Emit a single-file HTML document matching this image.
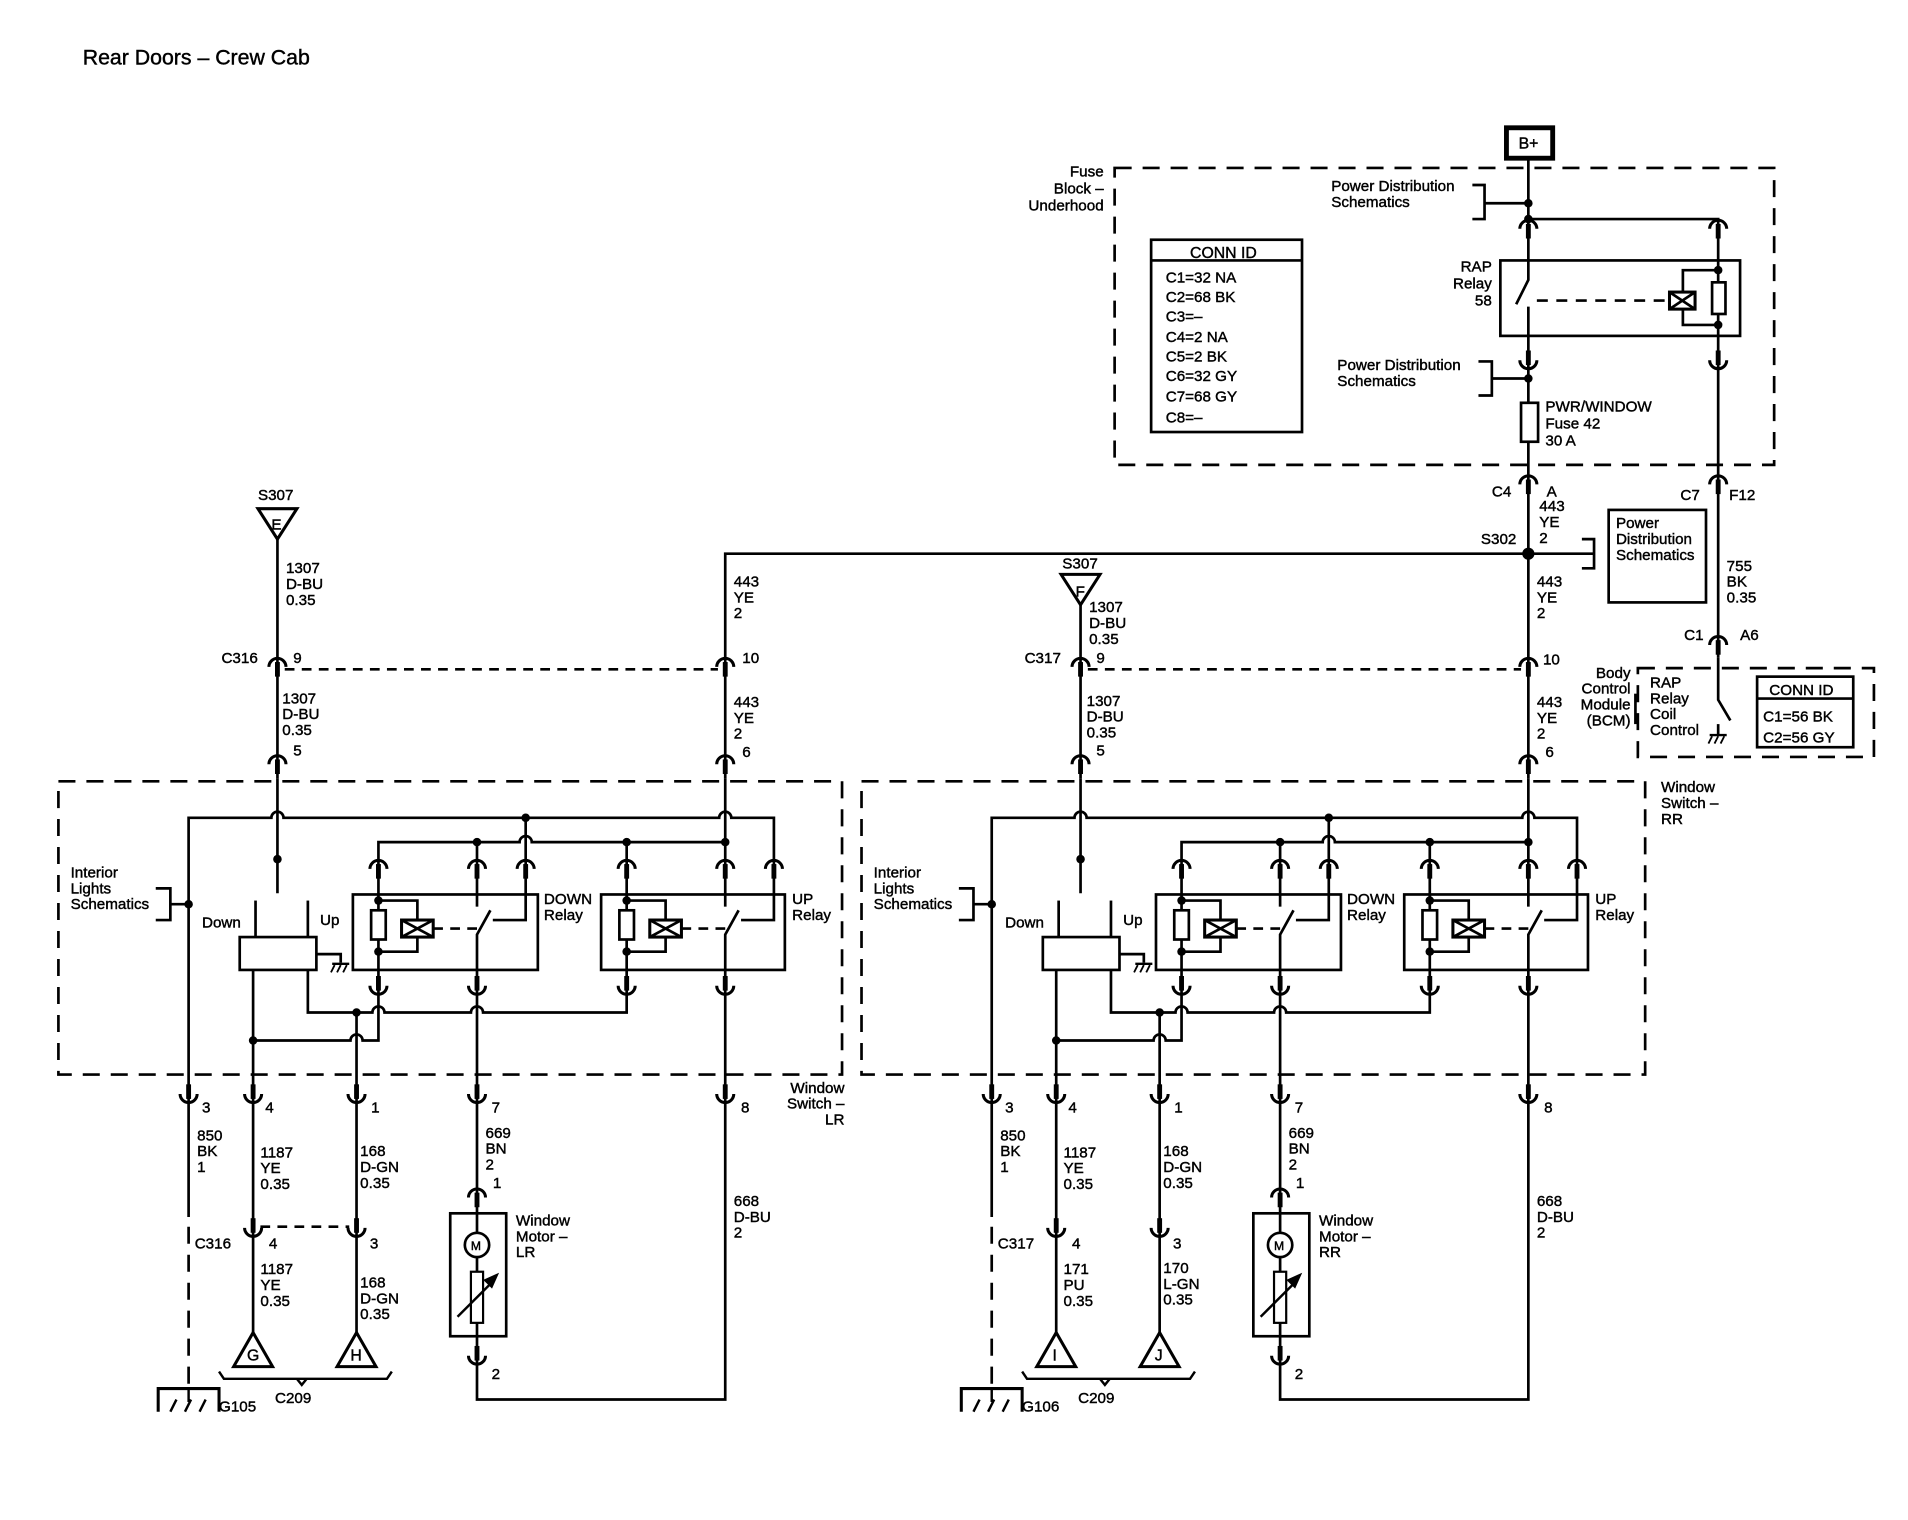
<!DOCTYPE html>
<html><head><meta charset="utf-8"><style>
html,body{margin:0;padding:0;background:#fff}
svg{display:block}
text{font-family:"Liberation Sans",Arial,sans-serif;font-size:12.5px;fill:#000;stroke:#000;stroke-width:0.35}
</style></head><body>
<svg width="1908" height="1520" viewBox="0 0 1568 1249" preserveAspectRatio="none" xmlns="http://www.w3.org/2000/svg">
<defs>
<g id="ct"><line x1="0" y1="2" x2="0" y2="14" stroke="#000" stroke-width="4"/><path d="M-7,6 A7,7 0 0 1 7,6" fill="none" stroke="#000" stroke-width="2.5"/></g>
<g id="cb"><line x1="0" y1="-14" x2="0" y2="-2" stroke="#000" stroke-width="4"/><path d="M-7,-6 A7,7 0 0 0 7,-6" fill="none" stroke="#000" stroke-width="2.5"/></g>
<g id="gnd"><line x1="-7" y1="0" x2="7" y2="0" stroke="#000" stroke-width="2"/><line x1="-5" y1="1" x2="-8" y2="7" stroke="#000" stroke-width="1.5"/><line x1="0" y1="1" x2="-3" y2="7" stroke="#000" stroke-width="1.5"/><line x1="5" y1="1" x2="2" y2="7" stroke="#000" stroke-width="1.5"/></g>
<g id="asm" fill="none" stroke="#000" stroke-width="2.2">
 <path d="M155,900 V672 H223 A5,5 0 0 1 233,672 H591 A5,5 0 0 1 601,672 H636 V714"/>
 <path d="M311,714 V692 H427 A5,5 0 0 1 437,692 H596"/>
 <line x1="432" y1="672" x2="432" y2="714"/>
 <line x1="392" y1="692" x2="392" y2="714"/>
 <line x1="515" y1="692" x2="515" y2="714"/>
 <line x1="596" y1="640" x2="596" y2="714"/>
 <line x1="228" y1="640" x2="228" y2="734"/>
 <rect x="197" y="770" width="63" height="27" fill="#fff"/>
 <line x1="210" y1="740" x2="210" y2="770"/>
 <line x1="253" y1="740" x2="253" y2="770"/>
 <path d="M260,784 H280 V791"/>
 <rect x="290" y="735" width="152" height="62"/>
 <line x1="311" y1="714" x2="311" y2="809"/>
 <rect x="305" y="748" width="12" height="24" fill="#fff"/>
 <path d="M311,740 H343 V756 M311,782 H343 V770"/>
 <rect x="330" y="756" width="26" height="14" stroke-width="2.5" fill="#fff"/>
 <path d="M330,756 L356,770 M356,756 L330,770"/>
 <line x1="356" y1="763" x2="392" y2="763" stroke-dasharray="8,6"/>
 <line x1="392" y1="714" x2="392" y2="745"/>
 <path d="M392,809 V768 L403,748"/>
 <path d="M432,714 V756 H405"/>
 <rect x="494" y="735" width="151" height="62"/>
 <line x1="515" y1="714" x2="515" y2="809"/>
 <rect x="509" y="748" width="12" height="24" fill="#fff"/>
 <path d="M515,740 H547 V756 M515,782 H547 V770"/>
 <rect x="534" y="756" width="26" height="14" stroke-width="2.5" fill="#fff"/>
 <path d="M534,756 L560,770 M560,756 L534,770"/>
 <line x1="560" y1="763" x2="596" y2="763" stroke-dasharray="8,6"/>
 <line x1="596" y1="714" x2="596" y2="745"/>
 <path d="M596,898 V768 L607,748"/>
 <path d="M636,714 V756 H609"/>
 <path d="M311,809 V855 H298 A5,5 0 0 0 288,855 H208"/>
 <line x1="208" y1="797" x2="208" y2="898"/>
 <path d="M253,797 V832 H306 A5,5 0 0 1 316,832 H387 A5,5 0 0 1 397,832 H515 V809"/>
 <line x1="293" y1="832" x2="293" y2="898"/>
 <line x1="392" y1="809" x2="392" y2="898"/>
 <g fill="#000" stroke="none">
  <circle cx="432" cy="672" r="3.5"/><circle cx="392" cy="692" r="3.5"/><circle cx="515" cy="692" r="3.5"/><circle cx="596" cy="692" r="3.5"/>
  <circle cx="228" cy="706" r="3.5"/><circle cx="311" cy="740" r="3.5"/><circle cx="311" cy="782" r="3.5"/><circle cx="515" cy="740" r="3.5"/><circle cx="515" cy="782" r="3.5"/>
  <circle cx="208" cy="855" r="3.5"/><circle cx="293" cy="832" r="3.5"/><circle cx="155" cy="743" r="3.5"/>
 </g>
 <path d="M128,730 H140 V756 H128 M140,743 H155"/>
 <rect x="48" y="642" width="644" height="241" stroke-dasharray="14,9"/>
 <use href="#ct" x="228" y="622"/><use href="#ct" x="596" y="622"/>
 <use href="#ct" x="311" y="708"/><use href="#ct" x="392" y="708"/><use href="#ct" x="432" y="708"/><use href="#ct" x="515" y="708"/><use href="#ct" x="596" y="708"/><use href="#ct" x="636" y="708"/>
 <use href="#cb" x="311" y="816"/><use href="#cb" x="392" y="816"/><use href="#cb" x="515" y="816"/><use href="#cb" x="596" y="816"/>
 <use href="#cb" x="155" y="905"/><use href="#cb" x="208" y="905"/><use href="#cb" x="293" y="905"/><use href="#cb" x="392" y="905"/><use href="#cb" x="596" y="905"/>
 <use href="#gnd" x="280" y="792"/>
 <line x1="155" y1="900" x2="155" y2="1000"/>
 <line x1="155" y1="1008" x2="155" y2="1140" stroke-dasharray="14,9"/>
 <line x1="208" y1="898" x2="208" y2="1095"/>
 <line x1="293" y1="898" x2="293" y2="1095"/>
 <use href="#cb" x="208" y="1015"/><use href="#cb" x="293" y="1015"/>
 <path d="M192,1123 L208,1095 L224,1123 Z" stroke-width="2.5"/>
 <path d="M277,1123 L293,1095 L309,1123 Z" stroke-width="2.5"/>
 <path d="M180,1127 L184,1133 H318 L322,1127 M244,1133 L248,1138 L252,1133" stroke-width="2"/>
 <path d="M130,1160 V1141 H180 V1160" stroke-width="2.5"/>
 <path d="M155,1141 V1152 M140,1160 L145,1150 M152,1160 L157,1150 M164,1160 L169,1150" stroke-width="2"/>
 <line x1="392" y1="898" x2="392" y2="997"/>
 <use href="#ct" x="392" y="978"/>
 <rect x="370" y="997" width="46" height="101" stroke-width="2.2"/>
 <circle cx="392" cy="1023" r="10" fill="#fff" stroke-width="2.2"/>
 <line x1="392" y1="997" x2="392" y2="1013"/>
 <line x1="392" y1="1033" x2="392" y2="1045"/>
 <rect x="387" y="1045" width="10" height="42" fill="#fff" stroke-width="1.8"/>
 <line x1="392" y1="1087" x2="392" y2="1098"/>
 <path d="M376,1082 L406,1052" stroke-width="2"/><path d="M408,1048 L399,1052 L404,1057 Z" fill="#000"/>
 <use href="#cb" x="392" y="1120"/>
 <path d="M392,1098 V1150 H596 V898"/>
</g>
</defs>
<text x="68" y="53" style="font-size:17.5px">Rear Doors – Crew Cab</text>

<g fill="none" stroke="#000" stroke-width="2.2">
 <rect x="916" y="138" width="542" height="244" stroke-dasharray="14,9"/>
 <rect x="946" y="197" width="124" height="158"/>
 <line x1="946" y1="214" x2="1070" y2="214"/>
 <rect x="1238" y="105" width="38" height="25" stroke-width="4"/>
 <path d="M1256,130 V230 L1246,250"/>
 <path d="M1256,180 H1412 V258"/>
 <path d="M1210,152 H1220 V180 H1210 M1220,167 H1256"/>
 <rect x="1233" y="214" width="197" height="62"/>
 <line x1="1263" y1="247" x2="1372" y2="247" stroke-dasharray="9,7"/>
 <rect x="1372" y="240" width="21" height="14" stroke-width="2.5" fill="#fff"/>
 <path d="M1372,240 L1393,254 M1393,240 L1372,254"/>
 <rect x="1407" y="232" width="11" height="26" fill="#fff"/>
 <path d="M1412,222 H1383 V240 M1412,267 H1383 V254"/>
 <path d="M1256,252 V331 M1256,363 V455 M1412,258 V540"/>
 <path d="M1215,297 H1226 V325 H1215 M1226,311 H1256"/>
 <rect x="1250" y="331" width="14" height="32"/>
 <use href="#ct" x="1256" y="182"/><use href="#ct" x="1412" y="182"/>
 <use href="#cb" x="1256" y="302"/><use href="#cb" x="1412" y="302"/>
 <use href="#ct" x="1256" y="392"/><use href="#ct" x="1412" y="392"/>
 <path d="M596,640 V455 H1256 V640"/>
 <path d="M1300,443 H1310 V467 H1300 M1310,455 H1256"/>
 <rect x="1322" y="419" width="80" height="76"/>
 <use href="#ct" x="1256" y="542"/><use href="#ct" x="596" y="542"/>
 <use href="#ct" x="228" y="542"/><use href="#ct" x="888" y="542"/>
 <line x1="234" y1="550" x2="590" y2="550" stroke-dasharray="8,6"/>
 <line x1="894" y1="550" x2="1250" y2="550" stroke-dasharray="8,6"/>
 <line x1="228" y1="443" x2="228" y2="640"/>
 <line x1="888" y1="497" x2="888" y2="640"/>
 <path d="M212,418 H244 L228,443 Z" stroke-width="2.5"/>
 <path d="M872,472 H904 L888,497 Z" stroke-width="2.5"/>
 <use href="#ct" x="1412" y="524"/>
 <path d="M1412,540 V575 L1422,592"/>
 <rect x="1346" y="549" width="194" height="73" stroke-dasharray="14,9"/>
 <line x1="1344" y1="570" x2="1344" y2="595"/>
 <rect x="1444" y="556" width="79" height="58"/>
 <line x1="1444" y1="574" x2="1523" y2="574"/>
 <line x1="1412" y1="595" x2="1412" y2="604"/>
 <use href="#gnd" x="1412" y="604"/>
 <g fill="#000" stroke="none"><circle cx="1256" cy="167" r="3.5"/><circle cx="1256" cy="180" r="3.5"/><circle cx="1412" cy="222" r="3.5"/><circle cx="1412" cy="267" r="3.5"/><circle cx="1256" cy="311" r="3.5"/><circle cx="1256" cy="455" r="5"/></g>
</g>
<text x="1248" y="122" style="font-size:13px">B+</text>
<g text-anchor="end"><text x="907" y="145">Fuse</text><text x="907" y="159">Block –</text><text x="907" y="173">Underhood</text>
<text x="1226" y="223">RAP</text><text x="1226" y="237">Relay</text><text x="1226" y="251">58</text>
<text x="1340" y="557">Body</text><text x="1340" y="570">Control</text><text x="1340" y="583">Module</text><text x="1340" y="596">(BCM)</text>
<text x="694" y="898">Window</text><text x="694" y="911">Switch –</text><text x="694" y="924">LR</text></g>
<text x="1094" y="157">Power Distribution</text><text x="1094" y="170">Schematics</text>
<text x="1099" y="304">Power Distribution</text><text x="1099" y="317">Schematics</text>
<text x="1270" y="338">PWR/WINDOW</text><text x="1270" y="352">Fuse 42</text><text x="1270" y="366">30 A</text>
<text x="978" y="212" style="font-size:13px">CONN ID</text>
<g style="font-size:13.5px"><text x="958" y="232">C1=32 NA</text><text x="958" y="248">C2=68 BK</text><text x="958" y="264">C3=–</text><text x="958" y="281">C4=2 NA</text><text x="958" y="297">C5=2 BK</text><text x="958" y="313">C6=32 GY</text><text x="958" y="330">C7=68 GY</text><text x="958" y="347">C8=–</text>
<text x="1454" y="571">CONN ID</text><text x="1449" y="593">C1=56 BK</text><text x="1449" y="610">C2=56 GY</text></g>
<text x="1226" y="408">C4</text><text x="1271" y="408">A</text><text x="1381" y="411">C7</text><text x="1421" y="411">F12</text>
<text x="1265" y="420">443</text><text x="1265" y="433">YE</text><text x="1265" y="446">2</text>
<text x="1217" y="447">S302</text>
<text x="1328" y="434">Power</text><text x="1328" y="447">Distribution</text><text x="1328" y="460">Schematics</text>
<text x="1263" y="482">443</text><text x="1263" y="495">YE</text><text x="1263" y="508">2</text>
<text x="1268" y="546">10</text><text x="1263" y="581">443</text><text x="1263" y="594">YE</text><text x="1263" y="607">2</text><text x="1270" y="622">6</text>
<text x="1419" y="469">755</text><text x="1419" y="482">BK</text><text x="1419" y="495">0.35</text>
<text x="1384" y="526">C1</text><text x="1430" y="526">A6</text>
<text x="1356" y="565">RAP</text><text x="1356" y="578">Relay</text><text x="1356" y="591">Coil</text><text x="1356" y="604">Control</text>
<text x="212" y="411">S307</text><text x="223" y="435">E</text>
<text x="235" y="471">1307</text><text x="235" y="484">D-BU</text><text x="235" y="497">0.35</text>
<text x="182" y="545">C316</text><text x="241" y="545">9</text>
<text x="232" y="578">1307</text><text x="232" y="591">D-BU</text><text x="232" y="604">0.35</text><text x="241" y="621">5</text>
<text x="603" y="482">443</text><text x="603" y="495">YE</text><text x="603" y="508">2</text>
<text x="610" y="545">10</text><text x="603" y="581">443</text><text x="603" y="594">YE</text><text x="603" y="607">2</text><text x="610" y="622">6</text>
<text x="873" y="467">S307</text><text x="884" y="490">F</text>
<text x="895" y="503">1307</text><text x="895" y="516">D-BU</text><text x="895" y="529">0.35</text>
<text x="842" y="545">C317</text><text x="901" y="545">9</text>
<text x="893" y="580">1307</text><text x="893" y="593">D-BU</text><text x="893" y="606">0.35</text><text x="901" y="621">5</text>
<text x="1365" y="651">Window</text><text x="1365" y="664">Switch –</text><text x="1365" y="677">RR</text>

<use href="#asm"/>
<use href="#asm" x="660"/>
<line x1="214" y1="1008" x2="287" y2="1008" stroke="#000" stroke-width="2.2" stroke-dasharray="8,6"/>

<g>
<text x="58" y="721">Interior</text><text x="58" y="734">Lights</text><text x="58" y="747">Schematics</text>
<text x="166" y="762">Down</text><text x="263" y="760">Up</text>
<text x="447" y="743">DOWN</text><text x="447" y="756">Relay</text>
<text x="651" y="743">UP</text><text x="651" y="756">Relay</text>
<text x="166" y="914">3</text><text x="218" y="914">4</text><text x="305" y="914">1</text><text x="404" y="914">7</text><text x="609" y="914">8</text>
<text x="162" y="937">850</text><text x="162" y="950">BK</text><text x="162" y="963">1</text>
<text x="214" y="951">1187</text><text x="214" y="964">YE</text><text x="214" y="977">0.35</text>
<text x="296" y="950">168</text><text x="296" y="963">D-GN</text><text x="296" y="976">0.35</text>
<text x="399" y="935">669</text><text x="399" y="948">BN</text><text x="399" y="961">2</text><text x="405" y="976">1</text>
<text x="424" y="1007">Window</text><text x="424" y="1020">Motor –</text><text x="424" y="1033">LR</text>
<text x="603" y="991">668</text><text x="603" y="1004">D-BU</text><text x="603" y="1017">2</text>
<text x="160" y="1026">C316</text><text x="221" y="1026">4</text><text x="304" y="1026">3</text>
<text x="214" y="1047">1187</text><text x="214" y="1060">YE</text><text x="214" y="1073">0.35</text>
<text x="296" y="1058">168</text><text x="296" y="1071">D-GN</text><text x="296" y="1084">0.35</text>
<text x="203" y="1118" style="font-size:13px">G</text><text x="288" y="1118" style="font-size:13px">H</text>
<text x="226" y="1153">C209</text><text x="180" y="1160">G105</text>
<text x="404" y="1133">2</text><text x="387" y="1027" style="font-size:10px">M</text>
</g>
<g transform="translate(660,0)">
<text x="58" y="721">Interior</text><text x="58" y="734">Lights</text><text x="58" y="747">Schematics</text>
<text x="166" y="762">Down</text><text x="263" y="760">Up</text>
<text x="447" y="743">DOWN</text><text x="447" y="756">Relay</text>
<text x="651" y="743">UP</text><text x="651" y="756">Relay</text>
<text x="166" y="914">3</text><text x="218" y="914">4</text><text x="305" y="914">1</text><text x="404" y="914">7</text><text x="609" y="914">8</text>
<text x="162" y="937">850</text><text x="162" y="950">BK</text><text x="162" y="963">1</text>
<text x="214" y="951">1187</text><text x="214" y="964">YE</text><text x="214" y="977">0.35</text>
<text x="296" y="950">168</text><text x="296" y="963">D-GN</text><text x="296" y="976">0.35</text>
<text x="399" y="935">669</text><text x="399" y="948">BN</text><text x="399" y="961">2</text><text x="405" y="976">1</text>
<text x="424" y="1007">Window</text><text x="424" y="1020">Motor –</text><text x="424" y="1033">RR</text>
<text x="603" y="991">668</text><text x="603" y="1004">D-BU</text><text x="603" y="1017">2</text>
<text x="160" y="1026">C317</text><text x="221" y="1026">4</text><text x="304" y="1026">3</text>
<text x="214" y="1047">171</text><text x="214" y="1060">PU</text><text x="214" y="1073">0.35</text>
<text x="296" y="1046">170</text><text x="296" y="1059">L-GN</text><text x="296" y="1072">0.35</text>
<text x="205" y="1118" style="font-size:13px">I</text><text x="289" y="1118" style="font-size:13px">J</text>
<text x="226" y="1153">C209</text><text x="180" y="1160">G106</text>
<text x="404" y="1133">2</text><text x="387" y="1027" style="font-size:10px">M</text>
</g>
</svg>
</body></html>
